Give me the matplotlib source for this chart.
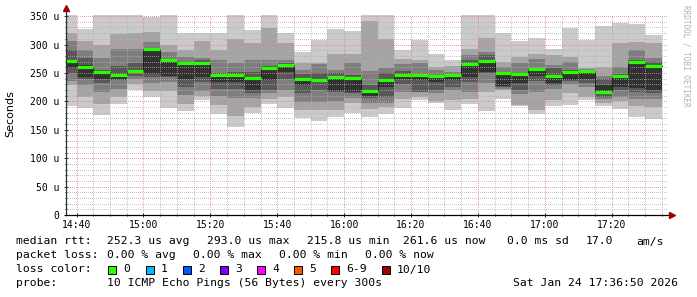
# -*- coding: utf-8 -*-

"""
SmokePing style latency graph (last 3 hours, 5 minute slots)
"""

# Imports
import numpy as np
import matplotlib
matplotlib.use("Agg")
import matplotlib.pyplot as plt
from matplotlib.patches import Rectangle


# Data ########################################################################

firstSlot = "14:35"          # start of the first 5 minute slot
slotLength = 5               # minutes
viewStart = "14:36:50"
viewEnd = "17:36:50"

# Median rtt of every slot (us)
medians = [271, 260, 251, 247, 254, 293, 272, 267, 268, 246, 246, 242,
           259, 264, 239, 237, 243, 241, 218, 237, 246, 247, 244, 246,
           266, 271, 250, 249, 257, 244, 251, 253, 216, 244, 269, 262]

# Sorted ping times of every slot, 10 pings (us)
pings = [
    [192, 229, 236, 250, 258, 273, 291, 306, 320, 360],
    [188, 208, 229, 240, 243, 264, 277, 291, 307, 327],
    [176, 196, 216, 232, 240, 250, 256, 276, 300, 360],
    [195, 207, 222, 237, 240, 247, 262, 292, 318, 360],
    [220, 231, 240, 244, 250, 256, 267, 292, 320, 360],
    [208, 218, 232, 243, 248, 290, 293, 305, 322, 349],
    [189, 219, 234, 243, 244, 270, 275, 287, 300, 360],
    [183, 196, 211, 225, 240, 264, 268, 278, 290, 320],
    [202, 210, 219, 234, 243, 266, 272, 276, 307, 320],
    [178, 193, 210, 222, 234, 244, 250, 272, 290, 321],
    [155, 175, 206, 222, 234, 245, 252, 268, 310, 360],
    [179, 190, 206, 214, 220, 241, 251, 272, 302, 325],
    [196, 205, 214, 220, 238, 258, 263, 272, 330, 360],
    [188, 207, 220, 240, 252, 262, 268, 272, 302, 320],
    [170, 185, 199, 214, 229, 239, 249, 256, 267, 287],
    [166, 184, 199, 220, 235, 238, 250, 266, 267, 308],
    [173, 184, 200, 217, 218, 241, 250, 255, 284, 327],
    [180, 197, 206, 215, 217, 239, 247, 267, 284, 324],
    [173, 186, 197, 206, 210, 220, 228, 253, 341, 360],
    [178, 190, 198, 208, 226, 236, 250, 258, 310, 360],
    [189, 205, 216, 230, 240, 246, 254, 266, 275, 290],
    [202, 208, 216, 217, 237, 245, 249, 267, 272, 308],
    [198, 201, 214, 220, 234, 242, 246, 256, 261, 283],
    [185, 202, 220, 225, 237, 244, 247, 252, 262, 273],
    [195, 205, 217, 234, 243, 264, 272, 281, 293, 360],
    [183, 216, 232, 250, 252, 270, 282, 287, 311, 360],
    [204, 220, 222, 226, 227, 249, 252, 261, 270, 320],
    [192, 194, 213, 220, 232, 246, 250, 268, 278, 307],
    [178, 185, 216, 235, 245, 254, 258, 275, 284, 312],
    [191, 202, 222, 228, 232, 243, 258, 264, 282, 293],
    [193, 214, 230, 236, 237, 249, 256, 269, 278, 329],
    [203, 208, 226, 232, 240, 250, 252, 257, 258, 308],
    [192, 197, 204, 208, 216, 228, 239, 244, 261, 332],
    [187, 201, 208, 220, 226, 243, 248, 261, 302, 338],
    [173, 191, 205, 216, 223, 268, 272, 290, 304, 336],
    [169, 190, 205, 215, 220, 260, 270, 276, 302, 317],
]

yTicks = [0, 50, 100, 150, 200, 250, 300, 350]
yTickLabels = ["0", "50 u", "100 u", "150 u", "200 u", "250 u", "300 u", "350 u"]
xTickLabels = ["14:40", "15:00", "15:20", "15:40", "16:00", "16:20",
               "16:40", "17:00", "17:20"]

lossLabels = ["0", "1", "2", "3", "4", "5", "6-9", "10/10"]
lossColors = ["#26ff00", "#00b8ff", "#0059ff", "#7e00ff", "#ff00ff",
              "#ff5500", "#ff0000", "#a10000"]

statsLine = [("median rtt:", 16), ("252.3 us avg", 107), ("293.0 us max", 207),
             ("215.8 us min", 307), ("261.6 us now", 403), ("0.0 ms sd", 507),
             ("17.0", 586), ("am/s", 636)]
lossLine = [("packet loss:", 16), ("0.00 % avg", 107), ("0.00 % max", 193),
            ("0.00 % min", 279), ("0.00 % now", 365)]
probeText = "10 ICMP Echo Pings (56 Bytes) every 300s"
dateText = "Sat Jan 24 17:36:50 2026"


################################################################################

def toMinutes(text):
    parts = [float(p) for p in text.split(":")]
    total = parts[0] * 60 + parts[1]
    if len(parts) > 2:
        total += parts[2] / 60
    return total


def main():
    W, H = 697, 297
    fig = plt.figure(figsize=(W / 100, H / 100), dpi=100)
    fig.patch.set_facecolor("white")

    left, right, top, bottom = 66, 668, 15, 215
    ax = fig.add_axes([left / W, 1 - bottom / H, (right - left) / W, (bottom - top) / H])
    ax.set_facecolor("white")

    data = np.array(pings, dtype=float)
    starts = toMinutes(firstSlot) + slotLength * np.arange(len(medians))

    # Smoke: outer pair lightest, inner pair darkest
    half = data.shape[1] // 2
    for i in range(half):
        level = int(190 / half * (half - 1 - i)) + 50
        shade = "#{0:02x}{0:02x}{0:02x}".format(level)
        ax.bar(starts, data[:, -1 - i] - data[:, i], bottom=data[:, i],
               width=slotLength, align="edge", color=shade, linewidth=0, zorder=1)

    # Median step line and loss coloured median
    stepX = np.append(starts, starts[-1] + slotLength)
    stepY = np.append(medians, medians[-1])
    ax.step(stepX, stepY, where="post", color="#202020", lw=0.72, zorder=3)
    ax.hlines(medians, starts, starts + slotLength, color=lossColors[0], lw=2.3, zorder=4)

    ax.set_xlim(toMinutes(viewStart), toMinutes(viewEnd))
    ax.set_ylim(0, 352)

    # Grid
    xMajor = [toMinutes(t) for t in xTickLabels]
    ax.set_xticks(xMajor)
    ax.set_xticklabels(xTickLabels)
    ax.set_xticks(np.arange(toMinutes("14:40"), toMinutes(viewEnd), 5), minor=True)
    ax.set_yticks(yTicks)
    ax.set_yticklabels(yTickLabels)
    ax.set_yticks(np.arange(0, 351, 10), minor=True)
    ax.set_axisbelow(False)
    ax.grid(which="minor", color="#b0b0b0", lw=0.72, linestyle=(0, (1, 2)),
            alpha=0.7, antialiased=False)
    ax.grid(which="major", color="#e88080", lw=0.72, linestyle=(0, (1, 2)),
            alpha=0.75, antialiased=False)

    for spine in ax.spines.values():
        spine.set_visible(False)
    ax.plot([0, 0], [0, 1.03], color="#303030", lw=0.9, transform=ax.transAxes,
            clip_on=False, zorder=5)
    ax.plot([-0.002, 1.004], [0, 0], color="#000000", lw=0.9, transform=ax.transAxes,
            clip_on=False, zorder=5)
    ax.plot([0], [1.035], marker="^", ms=4, color="#9c0000", transform=ax.transAxes,
            clip_on=False, zorder=6)
    ax.plot([1.006], [0], marker=">", ms=4, color="#9c0000", transform=ax.transAxes,
            clip_on=False, zorder=6)

    mono = "DejaVu Sans Mono"
    ax.tick_params(which="both", direction="inout", color="#303030", width=0.7)
    ax.tick_params(which="major", length=3)
    ax.tick_params(which="minor", length=2)
    ax.tick_params(axis="y", pad=3.5)
    ax.tick_params(axis="x", pad=2)
    for label in ax.get_xticklabels() + ax.get_yticklabels():
        label.set_fontfamily(mono)
        label.set_fontsize(7)

    fig.text(10 / W, 1 - 114 / H, "Seconds", rotation=90, fontsize=8,
             family="DejaVu Sans", ha="center", va="center")
    fig.text(686 / W, 1 - 5 / H, "RRDTOOL / TOBI OETIKER", rotation=270,
             fontsize=5.5, family=mono, color="#b0b0b0", ha="center", va="top")

    # Legend block
    size = 8.2
    for text, x in statsLine:
        fig.text(x / W, 1 - 241.5 / H, text, fontsize=size, family=mono, va="center")
    for text, x in lossLine:
        fig.text(x / W, 1 - 255.5 / H, text, fontsize=size, family=mono, va="center")

    fig.text(16 / W, 1 - 269.5 / H, "loss color:", fontsize=size, family=mono, va="center")
    boxX = [108, 146, 183, 220, 257, 294, 331, 382]
    for x, label, color in zip(boxX, lossLabels, lossColors):
        fig.patches.append(Rectangle((x / W, 1 - 273.5 / H), 8 / W, 8 / H,
                                     transform=fig.transFigure, facecolor=color,
                                     edgecolor="black", lw=0.7))
        fig.text((x + 15) / W, 1 - 269.5 / H, label, fontsize=size, family=mono, va="center")

    fig.text(16 / W, 1 - 283 / H, "probe:", fontsize=size, family=mono, va="center")
    fig.text(107 / W, 1 - 283 / H, probeText, fontsize=size, family=mono, va="center")
    fig.text(513 / W, 1 - 283 / H, dateText, fontsize=size, family=mono, va="center")

    plt.savefig("out.png", dpi=100)
    plt.close(fig)


if __name__ == "__main__":

    main()
